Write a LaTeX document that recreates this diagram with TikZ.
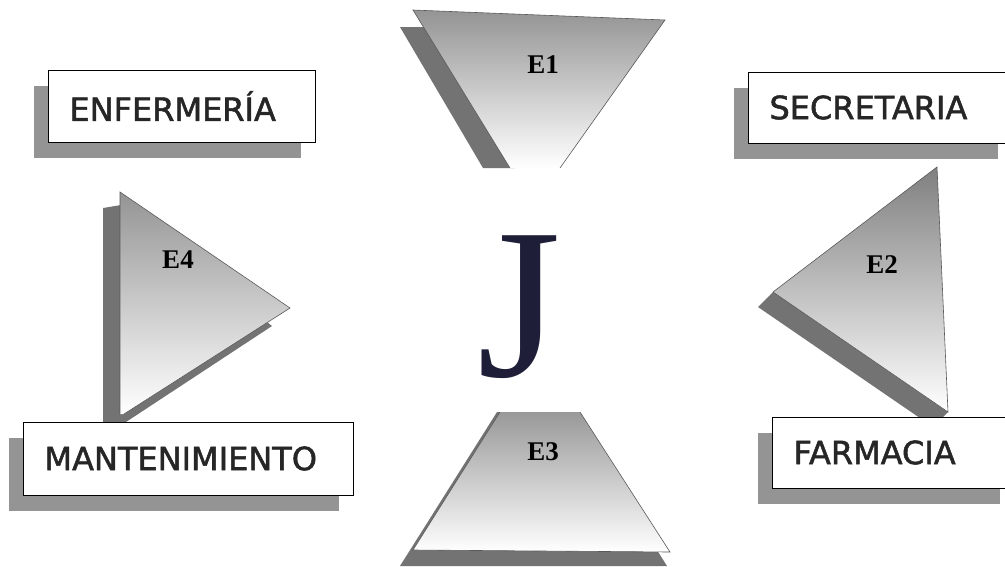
\documentclass[tikz,border=0pt]{standalone}
\usepackage{fontspec}
\setmainfont{Liberation Serif}
\newfontfamily\rotulo[FakeBold=1.6]{DejaVu Sans}
\usetikzlibrary{shadows}

\definecolor{tinta}{RGB}{30,30,56}

\begin{document}
\begin{tikzpicture}[x=1pt, y=-1pt,
    caja/.style={draw=black, line width=1pt, fill=white, anchor=west, align=left,
      inner xsep=21pt, font=\rotulo\fontsize{32}{36}\selectfont, text=black!85,
      drop shadow={shadow xshift=-15pt, shadow yshift=-16pt, fill=black!42, opacity=1}},
    sombra/.style={fill=black!55},
    borde/.style={draw=black!65, line width=0.6pt},
    letra/.style={font=\bfseries\fontsize{27}{30}\selectfont, text=black}]
  \useasboundingbox (0,0) rectangle (1005,566);
  % E1
  \fill[sombra] (400,27) -- (432,27) -- (515,168) -- (483,168) -- cycle;
  \shade[top color=black!42, bottom color=white] (413,10) -- (665,20) -- (560,168) -- (510,168) -- cycle;
  \draw[borde] (510,168) -- (413,10) -- (665,20) -- (560,168);
  % E4
  \fill[sombra] (103,208) -- (121,205) -- (272,326) -- (126,422) -- (103,422) -- cycle;
  \shade[top color=black!42, bottom color=white] (120,192) -- (290,308) -- (124,414) -- (120,414) -- cycle;
  \draw[borde] (120,414) -- (120,192) -- (290,308) -- (124,414);
  % E2
  \fill[sombra] (758,307) -- (773,292) -- (948,412) -- (933,427) -- cycle;
  \shade[top color=black!50, bottom color=white] (937,167) -- (948,412) -- (773,292) -- cycle;
  \draw[borde] (937,167) -- (948,412) -- (773,292) -- cycle;
  % E3
  \fill[sombra] (497,412) -- (570,412) -- (667,566) -- (400,566) -- cycle;
  \shade[top color=black!40, middle color=black!8, bottom color=white] (500,412) -- (580,412) -- (670,552) -- (413,550) -- cycle;
  \draw[borde] (500,412) -- (413,550) -- (670,552) -- (580,412);
  \foreach \nom/\xe/\ye in {e1/543/65, e2/882/265, e3/543/452, e4/178/260}
    \node[letra] (\nom) at (\xe,\ye) {\MakeUppercase{\nom}};
  \node[text=tinta, font=\fontsize{215}{215}\selectfont, inner sep=0pt] (jota) at (519,307) {J};
  % recuadros
  \foreach \nom/\xb/\yb/\ancho/\alto/\txt in {
    enf/48/106/225/72/ENFERMERÍA, sec/748/107.5/222/71/SECRETARIA,
    far/772/452.5/200/71/FARMACIA, man/23/458.5/288/73/MANTENIMIENTO}
    \node[caja, text width=\ancho pt, minimum height=\alto pt] (\nom) at (\xb,\yb) {\txt};
\end{tikzpicture}
\end{document}
